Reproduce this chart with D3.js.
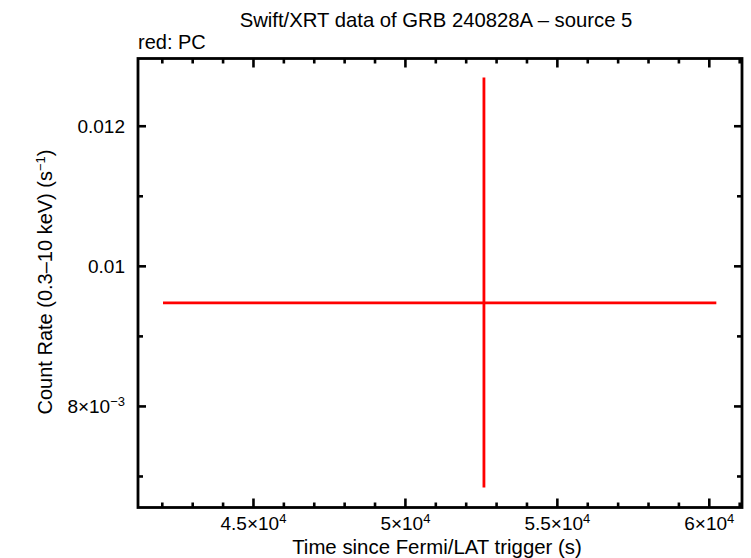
<!DOCTYPE html>
<html>
<head>
<meta charset="utf-8">
<script src="https://cdn.jsdelivr.net/npm/d3@7"></script>
<style>
  body { margin: 0; background: white; }
  text { font-family: "Liberation Sans", Arial, sans-serif; fill: black; }
</style>
</head>
<body>
<div id="chart"></div>
<script>
// data
var times = [52584]
var timeLo = [42023]
var timeHi = [60231]
var rates = [0.009477]
var rateLo = [0.006843]
var rateHi = [0.012696]

var xMajor = [45000, 50000, 55000, 60000]
var xMajorLabels = [["4.5", "4"], ["5", "4"], ["5.5", "4"], ["6", "4"]]
var yMajor = [0.008, 0.010, 0.012]
var yMajorLabels = ["8×10", "0.01", "0.012"]

var W = 751, H = 558
var pLeft = 138, pRight = 742, pTop = 58.5, pBottom = 507.5

var svg = d3.select("#chart").append("svg")
  .attr("width", W).attr("height", H)

var x = d3.scaleLinear().domain([41200, 61076]).range([pLeft, pRight])
var y = d3.scaleLinear().domain([0.006557, 0.012967]).range([pBottom, pTop])

// minor ticks every 1000 s and 0.001
var xMinor = d3.range(42000, 61001, 1000).filter(function(v){ return v % 5000 != 0 })
var yMinor = [0.007, 0.009, 0.011]

var frame = svg.append("g")
function tickLine(x1, y1, x2, y2) {
  frame.append("line").attr("x1", x1).attr("y1", y1).attr("x2", x2).attr("y2", y2)
    .attr("stroke", "black").attr("stroke-width", 2.6)
}
xMajor.forEach(function(v){
  tickLine(x(v), pBottom, x(v), pBottom - 9)
  tickLine(x(v), pTop, x(v), pTop + 9)
})
xMinor.forEach(function(v){
  tickLine(x(v), pBottom, x(v), pBottom - 5)
  tickLine(x(v), pTop, x(v), pTop + 5)
})
yMajor.forEach(function(v){
  tickLine(pLeft, y(v), pLeft + 8, y(v))
  tickLine(pRight, y(v), pRight - 8, y(v))
})
yMinor.forEach(function(v){
  tickLine(pLeft, y(v), pLeft + 5, y(v))
  tickLine(pRight, y(v), pRight - 5, y(v))
})
frame.append("rect")
  .attr("x", pLeft).attr("y", pTop)
  .attr("width", pRight - pLeft).attr("height", pBottom - pTop)
  .attr("fill", "none").attr("stroke", "black").attr("stroke-width", 2.8)

// x tick labels
xMajor.forEach(function(v, i){
  var t = svg.append("text").attr("x", x(v)).attr("y", 530)
    .attr("text-anchor", "middle").attr("font-size", 19)
  var parts = xMajorLabels[i]
  t.append("tspan").text(parts[0] + "×10")
  t.append("tspan").attr("font-size", 13).attr("dy", -7).text(parts[1])
})

// y tick labels
yMajor.forEach(function(v, i){
  var t = svg.append("text").attr("x", 125).attr("y", y(v) + 7)
    .attr("text-anchor", "end").attr("font-size", 19)
  t.append("tspan").text(yMajorLabels[i])
  if (i == 0) t.append("tspan").attr("font-size", 13).attr("dy", -7).text("−3")
})

// error bars
var pts = svg.append("g")
times.forEach(function(t, i){
  pts.append("line")
    .attr("x1", x(timeLo[i])).attr("x2", x(timeHi[i]))
    .attr("y1", y(rates[i])).attr("y2", y(rates[i]))
    .attr("stroke", "#ff0000").attr("stroke-width", 2.8)
  pts.append("line")
    .attr("x1", x(t)).attr("x2", x(t))
    .attr("y1", y(rateLo[i])).attr("y2", y(rateHi[i]))
    .attr("stroke", "#ff0000").attr("stroke-width", 2.8)
})

// titles
svg.append("text").attr("x", 436).attr("y", 27).attr("text-anchor", "middle")
  .attr("font-size", 20.3).text("Swift/XRT data of GRB 240828A – source 5")
svg.append("text").attr("x", 138).attr("y", 49).attr("font-size", 20).text("red: PC")
svg.append("text").attr("x", 437).attr("y", 554).attr("text-anchor", "middle")
  .attr("font-size", 20.4).text("Time since Fermi/LAT trigger (s)")

var yl = svg.append("text").attr("transform", "translate(52,282) rotate(-90)")
  .attr("text-anchor", "middle").attr("font-size", 20)
yl.append("tspan").text("Count Rate (0.3–10 keV) (s")
yl.append("tspan").attr("font-size", 13).attr("dy", -7).text("−1")
yl.append("tspan").attr("dy", 7).text(")")
</script>
</body>
</html>
